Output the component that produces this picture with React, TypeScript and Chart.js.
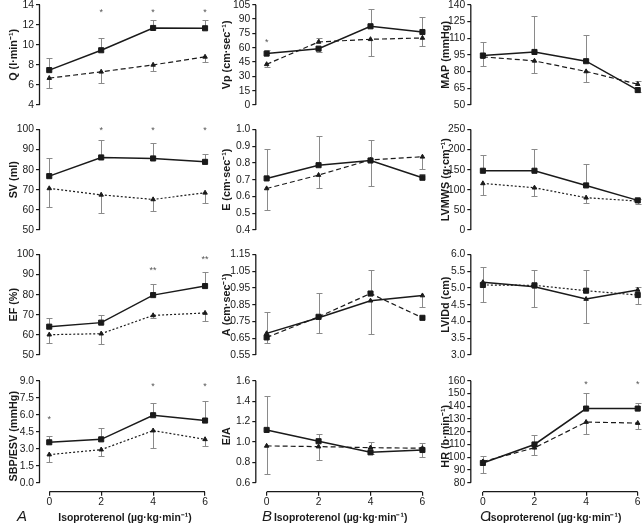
import React, { useEffect, useRef } from 'react';
import { Chart, registerables } from 'chart.js';

Chart.register(...registerables);
Chart.defaults.font.family = "'Liberation Sans', Arial, Helvetica, sans-serif";

// ---------------- DATA ----------------
const doses = [0, 2, 4, 6];
const doseTicks = [0, 2, 4, 6];
const xTitle = 'Isoproterenol (µg·kg·min⁻¹)';

// Q
const qTicks = [4, 6, 8, 10, 12, 14];
const qSolid = [7.48, 9.46, 11.68, 11.65];
const qSolidErr = [8.64, 10.72, 12.51, 12.51];
const qDash = [6.68, 7.31, 8.0, 8.8];
const qDashErr = [5.66, 6.15, 7.38, 8.27];
const qStarX = [2, 4, 6];
const qStarY = [13.2, 13.2, 13.2];

// Vp
const vpTicks = [0, 15, 30, 45, 60, 75, 90, 105];
const vpSolid = [53.8, 59.0, 82.4, 76.4];
const vpSolidErr = [57.3, 55.5, 100.8, 92.1];
const vpDash = [42.6, 66.0, 68.8, 70.2];
const vpDashErr = [39.8, 70.5, 51.7, 61.4];
const vpStarX = [0];
const vpStarY = [65.3];

// MAP
const mapTicks = [50, 65, 80, 95, 110, 125, 140];
const mapSolid = [94.4, 97.6, 89.3, 63.4];
const mapSolidErr = [106.6, 130.2, 113.2, 61.8];
const mapDash = [93.2, 89.6, 80.1, 68.7];
const mapDashErr = [85.1, 78.3, 70.5, 71.7];

// SV
const svTicks = [50, 60, 70, 80, 90, 100];
const svSolid = [76.8, 86.1, 85.6, 83.9];
const svSolidErr = [85.6, 94.7, 93.5, 87.9];
const svDot = [70.7, 67.5, 65.2, 68.5];
const svDotErr = [61.3, 58.3, 59.6, 63.2];
const svStarX = [2, 4, 6];
const svStarY = [99.6, 99.6, 99.6];

// E
const eTicks = [0.4, 0.5, 0.6, 0.7, 0.8, 0.9, 1.0];
const eSolid = [0.708, 0.787, 0.815, 0.712];
const eSolidErr = [0.883, 0.962, 0.664, 0.732];
const eDash = [0.648, 0.728, 0.819, 0.837];
const eDashErr = [0.522, 0.652, 0.94, 0.763];

// LVMWS
const lvmwsTicks = [0, 50, 100, 150, 200, 250];
const lvmwsSolid = [147.4, 147.4, 110.9, 73.7];
const lvmwsSolidErr = [186.3, 200.3, 163.9, 77.0];
const lvmwsDot = [115.9, 105.1, 80.3, 72.0];
const lvmwsDotErr = [86.9, 85.3, 67.0, 63.7];

// EF
const efTicks = [50, 60, 70, 80, 90, 100];
const efSolid = [64.1, 66.1, 79.8, 84.3];
const efSolidErr = [68.2, 69.7, 85.1, 91.1];
const efDot = [60.1, 60.6, 69.7, 70.9];
const efDotErr = [56.0, 55.5, 68.4, 66.9];
const efStarX = [4, 6];
const efStarY = [91.9, 97.7];

// A
const aTicks = [0.55, 0.65, 0.75, 0.85, 0.95, 1.05, 1.15];
const aSolid = [0.679, 0.772, 0.874, 0.905];
const aSolidErr = [0.804, 0.679, 0.673, 0.834];
const aDash = [0.655, 0.778, 0.917, 0.772];
const aDashErr = [0.619, 0.923, 1.056, 0.772];

// LVIDd
const lvidTicks = [3.0, 3.5, 4.0, 4.5, 5.0, 5.5, 6.0];
const lvidSolid = [5.17, 5.04, 4.67, 4.94];
const lvidSolidErr = [5.64, 4.44, 3.97, 5.03];
const lvidDot = [5.09, 5.08, 4.92, 4.79];
const lvidDotErr = [4.59, 5.54, 5.54, 4.52];

// SBP/ESV
const sbpTicks = [0, 1.5, 3.0, 4.5, 6.0, 7.5, 9.0];
const sbpSolid = [3.57, 3.83, 5.96, 5.49];
const sbpSolidErr = [4.16, 4.81, 7.02, 7.26];
const sbpDot = [2.48, 2.92, 4.6, 3.83];
const sbpDotErr = [1.83, 2.36, 3.1, 3.24];
const sbpStarX = [0, 4, 6];
const sbpStarY = [5.6, 8.5, 8.5];

// E/A
const eaTicks = [0.6, 0.8, 1.0, 1.2, 1.4, 1.6];
const eaSolid = [1.118, 1.007, 0.898, 0.921];
const eaSolidErr = [1.446, 1.075, 0.882, 0.849];
const eaDash = [0.961, 0.954, 0.944, 0.938];
const eaDashErr = [0.682, 0.823, 0.997, 0.987];

// HR
const hrTicks = [80, 90, 100, 110, 120, 130, 140, 150, 160];
const hrSolid = [95.5, 110.0, 138.2, 138.2];
const hrSolidErr = [100.8, 117.6, 150.5, 142.6];
const hrDash = [96.6, 107.4, 127.6, 126.8];
const hrDashErr = [87.9, 102.1, 117.9, 121.8];
const hrStarX = [4, 6];
const hrStarY = [157.4, 157.4];

// ---------------- STYLE / GEOMETRY ----------------
const INK = '#1a1a1a';
const ERR = '#8a8a8a';
const DASH = [5, 3];
const DOT = [2, 2];
const SOLID: number[] = [];
const TICK_FONT = 10.3;

type Series = { values: number[]; err: number[]; dash: number[]; marker: string };
type Panel = {
  row: number; col: number; title: string; ticks: number[]; decimals: number;
  series: Series[]; starX: number[]; starY: number[]; starText: string;
};

const S = (values: number[], err: number[], dash: number[], marker: string): Series => ({ values, err, dash, marker });

const panels: Panel[] = [
  { row: 0, col: 0, title: 'Q (l·min⁻¹)', ticks: qTicks, decimals: 0, series: [S(qDash, qDashErr, DASH, 'triangle'), S(qSolid, qSolidErr, SOLID, 'rect')], starX: qStarX, starY: qStarY, starText: '*' },
  { row: 0, col: 1, title: 'Vp (cm·sec⁻¹)', ticks: vpTicks, decimals: 0, series: [S(vpDash, vpDashErr, DASH, 'triangle'), S(vpSolid, vpSolidErr, SOLID, 'rect')], starX: vpStarX, starY: vpStarY, starText: '*' },
  { row: 0, col: 2, title: 'MAP (mmHg)', ticks: mapTicks, decimals: 0, series: [S(mapDash, mapDashErr, DASH, 'triangle'), S(mapSolid, mapSolidErr, SOLID, 'rect')], starX: [], starY: [], starText: '*' },
  { row: 1, col: 0, title: 'SV (ml)', ticks: svTicks, decimals: 0, series: [S(svDot, svDotErr, DOT, 'triangle'), S(svSolid, svSolidErr, SOLID, 'rect')], starX: svStarX, starY: svStarY, starText: '*' },
  { row: 1, col: 1, title: 'E (cm·sec⁻¹)', ticks: eTicks, decimals: 1, series: [S(eDash, eDashErr, DASH, 'triangle'), S(eSolid, eSolidErr, SOLID, 'rect')], starX: [], starY: [], starText: '*' },
  { row: 1, col: 2, title: 'LVMWS (g·cm⁻¹)', ticks: lvmwsTicks, decimals: 0, series: [S(lvmwsDot, lvmwsDotErr, DOT, 'triangle'), S(lvmwsSolid, lvmwsSolidErr, SOLID, 'rect')], starX: [], starY: [], starText: '*' },
  { row: 2, col: 0, title: 'EF (%)', ticks: efTicks, decimals: 0, series: [S(efDot, efDotErr, DOT, 'triangle'), S(efSolid, efSolidErr, SOLID, 'rect')], starX: efStarX, starY: efStarY, starText: '**' },
  { row: 2, col: 1, title: 'A (cm·sec⁻¹)', ticks: aTicks, decimals: 2, series: [S(aSolid, aSolidErr, SOLID, 'triangle'), S(aDash, aDashErr, DASH, 'rect')], starX: [], starY: [], starText: '*' },
  { row: 2, col: 2, title: 'LVIDd (cm)', ticks: lvidTicks, decimals: 1, series: [S(lvidSolid, lvidSolidErr, SOLID, 'triangle'), S(lvidDot, lvidDotErr, DOT, 'rect')], starX: [], starY: [], starText: '*' },
  { row: 3, col: 0, title: 'SBP/ESV (mmHg)', ticks: sbpTicks, decimals: 1, series: [S(sbpDot, sbpDotErr, DOT, 'triangle'), S(sbpSolid, sbpSolidErr, SOLID, 'rect')], starX: sbpStarX, starY: sbpStarY, starText: '*' },
  { row: 3, col: 1, title: 'E/A', ticks: eaTicks, decimals: 1, series: [S(eaDash, eaDashErr, DASH, 'triangle'), S(eaSolid, eaSolidErr, SOLID, 'rect')], starX: [], starY: [], starText: '*' },
  { row: 3, col: 2, title: 'HR (b·min⁻¹)', ticks: hrTicks, decimals: 0, series: [S(hrDash, hrDashErr, DASH, 'triangle'), S(hrSolid, hrSolidErr, SOLID, 'rect')], starX: hrStarX, starY: hrStarY, starText: '*' },
];

const COLS = [
  { left: 0, width: 215, padRight: 4, axisX: 40, x0: 49.3, titleX: 14 },
  { left: 215, width: 215, padRight: 4, axisX: 256.3, x0: 266.7, titleX: 227 },
  { left: 428, width: 215, padRight: 3, axisX: 471.3, x0: 483, titleX: 446 },
];
const PPU = 26.12;
const ROWS = [
  { top: 4.7, bottom: 105 },
  { top: 129.5, bottom: 230 },
  { top: 254.5, bottom: 355 },
  { top: 380.8, bottom: 482.7 },
];
const X_AXIS_Y = 491.7;
const H = 524;
const LETTERS = [
  { text: 'A', left: 17, top: 508 },
  { text: 'B', left: 262, top: 508 },
  { text: 'C', left: 480, top: 508 },
];

function PanelChart({ p }: { p: Panel }) {
  const ref = useRef<HTMLCanvasElement>(null);
  const col = COLS[p.col];
  const row = ROWS[p.row];
  const isBottom = p.row === 3;
  const canvasTop = Math.floor(row.top) - 10;
  const canvasHeight = isBottom ? H - canvasTop : Math.ceil(row.bottom) + 10 - canvasTop;

  useEffect(() => {
    const tMin = p.ticks[0];
    const tMax = p.ticks[p.ticks.length - 1];
    const ppuY = (row.bottom - row.top) / (tMax - tMin);
    const yMin = isBottom ? tMin - (X_AXIS_Y - row.bottom) / ppuY : tMin;
    const chartRight = col.left + col.width - col.padRight;
    const xMin = (col.axisX - col.x0) / PPU;
    const xMax = (chartRight - col.x0) / PPU;

    const datasets = p.series.map((s) => ({
      data: doses.map((d, i) => ({ x: d, y: s.values[i] })),
      borderColor: INK,
      backgroundColor: INK,
      borderWidth: s.dash.length ? 1.2 : 1.5,
      borderDash: s.dash,
      pointStyle: s.marker,
      pointRadius: s.marker === 'rect' ? 3.6 : 2.6,
      pointBackgroundColor: INK,
      pointBorderColor: INK,
      pointBorderWidth: 1,
      tension: 0,
      fill: false,
      clip: false,
    }));

    const decor = {
      id: 'decor',
      beforeDatasetsDraw(chart: any) {
        const { ctx } = chart;
        const xs = chart.scales.x;
        const ys = chart.scales.y;
        ctx.save();
        ctx.strokeStyle = ERR;
        ctx.lineWidth = 1;
        p.series.forEach((s) => {
          s.values.forEach((v, i) => {
            const e = s.err[i];
            if (e === v) return;
            const x = Math.round(xs.getPixelForValue(doses[i])) + 0.5;
            const y1 = ys.getPixelForValue(v);
            const y2 = Math.round(ys.getPixelForValue(e)) + 0.5;
            ctx.beginPath();
            ctx.moveTo(x, y1);
            ctx.lineTo(x, y2);
            ctx.moveTo(x - 3, y2);
            ctx.lineTo(x + 3, y2);
            ctx.stroke();
          });
        });
        ctx.restore();
      },
      afterDatasetsDraw(chart: any) {
        const { ctx, chartArea } = chart;
        const xs = chart.scales.x;
        const ys = chart.scales.y;
        ctx.save();
        ctx.strokeStyle = INK;
        ctx.lineWidth = 1.3;
        const ax = chartArea.left - 0.5;
        ctx.beginPath();
        ctx.moveTo(ax, ys.getPixelForValue(tMax));
        ctx.lineTo(ax, ys.getPixelForValue(tMin));
        ctx.stroke();
        if (isBottom) {
          const by = chartArea.bottom;
          ctx.beginPath();
          ctx.moveTo(xs.getPixelForValue(doseTicks[0]), by);
          ctx.lineTo(xs.getPixelForValue(doseTicks[doseTicks.length - 1]), by);
          ctx.stroke();
        }
        ctx.fillStyle = '#555';
        ctx.font = "9px 'Liberation Sans', Arial, sans-serif";
        ctx.textAlign = 'center';
        ctx.textBaseline = 'middle';
        p.starX.forEach((sx, i) => {
          ctx.fillText(p.starText, xs.getPixelForValue(sx), ys.getPixelForValue(p.starY[i]));
        });
        ctx.restore();
      },
    };

    const chart = new Chart(ref.current as HTMLCanvasElement, {
      type: 'line',
      data: { datasets } as any,
      options: {
        animation: false,
        responsive: false,
        devicePixelRatio: 1,
        events: [],
        layout: {
          padding: {
            left: 0,
            right: col.padRight,
            top: row.top - canvasTop,
            bottom: isBottom ? 0 : canvasTop + canvasHeight - row.bottom,
          },
        },
        plugins: { legend: { display: false }, tooltip: { enabled: false }, title: { display: false } },
        scales: {
          x: {
            type: 'linear',
            min: xMin,
            max: xMax,
            display: isBottom,
            afterBuildTicks: (s: any) => { s.ticks = doseTicks.map((v) => ({ value: v })); },
            afterFit: (s: any) => {
              if (isBottom) s.height = H - X_AXIS_Y;
              s.paddingLeft = 0;
              s.paddingRight = 0;
            },
            border: { display: false },
            grid: { display: true, drawOnChartArea: false, drawTicks: true, tickLength: 4, color: INK, lineWidth: 1.2 },
            ticks: { padding: 0, color: INK, font: { size: TICK_FONT }, maxRotation: 0, autoSkip: false, callback: (v: any) => String(v) },
            title: { display: true, text: xTitle, color: INK, font: { size: 10.4, weight: 'bold' }, padding: { top: 0, bottom: 0 } },
          },
          y: {
            type: 'linear',
            position: 'left',
            min: yMin,
            max: tMax,
            afterBuildTicks: (s: any) => { s.ticks = p.ticks.map((v) => ({ value: v })); },
            afterFit: (s: any) => { s.width = col.axisX - col.left; s.paddingTop = 0; s.paddingBottom = 0; },
            border: { display: false },
            grid: { display: true, drawOnChartArea: false, drawTicks: true, tickLength: 4, color: INK, lineWidth: 1.2 },
            ticks: { padding: 2, color: INK, font: { size: TICK_FONT }, autoSkip: false, callback: (v: any) => Number(v).toFixed(p.decimals) },
            title: { display: true, text: p.title, color: INK, font: { size: 10.8, weight: 'bold' }, padding: { top: col.titleX - col.left - 6.5, bottom: 0 } },
          },
        },
      } as any,
      plugins: [decor as any],
    });
    return () => chart.destroy();
  }, []);

  return (
    <canvas
      ref={ref}
      width={col.width}
      height={canvasHeight}
      style={{ position: 'absolute', left: col.left, top: canvasTop, width: col.width, height: canvasHeight }}
    />
  );
}

export default function App() {
  return (
    <div style={{ position: 'fixed', left: 0, top: 0, width: 643, height: H, background: '#fff', overflow: 'hidden' }}>
      {panels.map((p, i) => (
        <PanelChart key={i} p={p} />
      ))}
      {LETTERS.map((l) => (
        <div
          key={l.text}
          style={{ position: 'absolute', left: l.left, top: l.top, font: "italic 15px 'Liberation Sans', Arial, sans-serif", color: INK, lineHeight: '16px' }}
        >
          {l.text}
        </div>
      ))}
    </div>
  );
}
